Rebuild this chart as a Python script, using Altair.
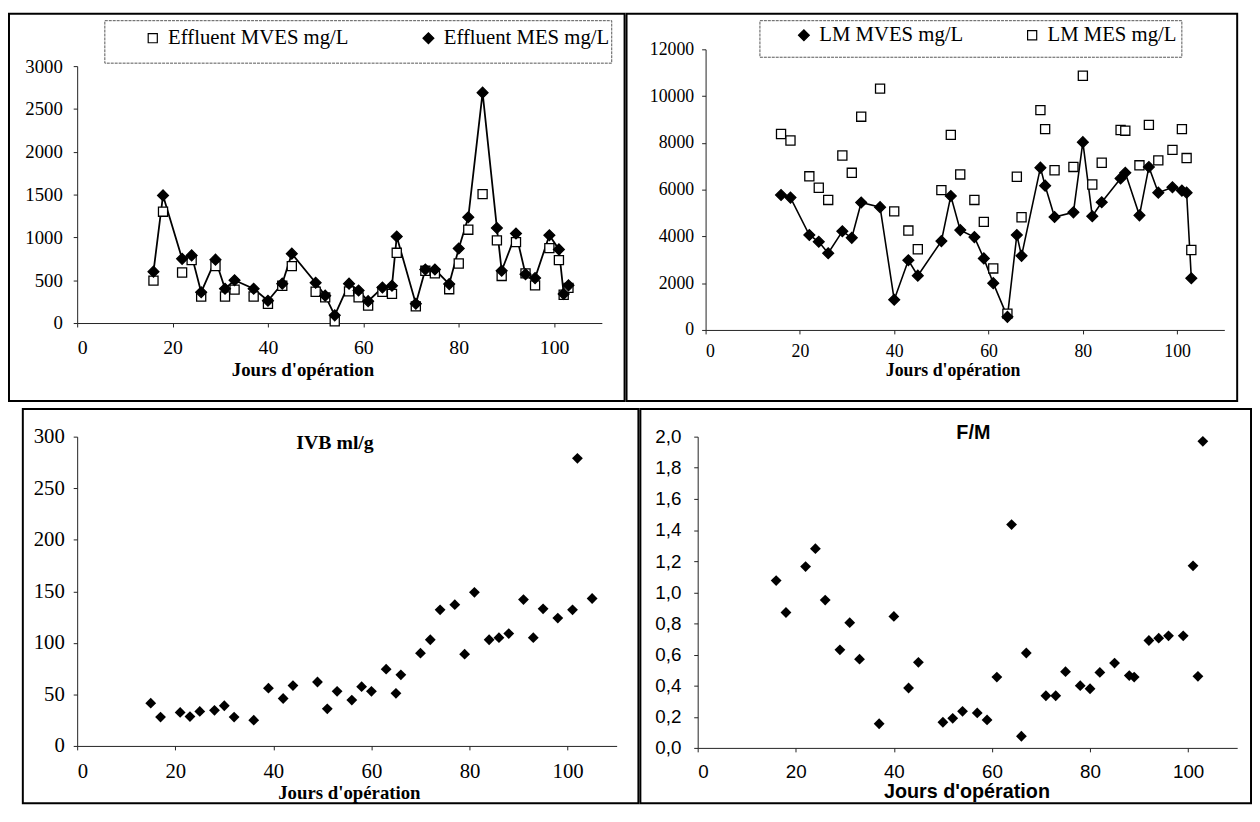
import altair as alt
import pandas as pd

SERIF = "Liberation Serif"
SANS = "Liberation Sans"
X_TITLE = "Jours d'opération"
X_TICKS = [0, 20, 40, 60, 80, 100]

# ---------------- Top left: effluent solids ----------------
eff_days = [16, 18, 22, 24, 26, 29, 31, 33, 37, 40, 43, 45, 50, 52, 54, 57, 59, 61, 64, 66, 67,
            71, 73, 75, 78, 80, 82, 85, 88, 89, 92, 94, 96, 99, 101, 102, 103]
eff_mes = [600, 1490, 750, 790, 360, 740, 400, 500, 400, 260, 460, 810, 470, 320, 90, 460, 380,
           255, 415, 435, 1010, 225, 625, 625, 455, 870, 1235, 2690, 1110, 610, 1045, 570, 525,
           1025, 860, 340, 440]
eff_mves = [495, 1300, 590, 735, 310, 665, 310, 390, 310, 225, 435, 665, 365, 300, 20, 370, 300,
            205, 365, 340, 820, 195, 610, 580, 395, 695, 1090, 1505, 965, 550, 945, 580, 440,
            875, 735, 330, 410]
eff_series = ["Effluent MVES mg/L", "Effluent MES mg/L"]

# ---------------- Top right: mixed liquor solids ----------------
lm_days = [16, 18, 22, 24, 26, 29, 31, 33, 37, 40, 43, 45, 50, 52, 54, 57, 59, 61, 64, 66, 67,
           71, 72, 74, 78, 80, 82, 84, 88, 89, 92, 94, 96, 99, 101, 102, 103]
lm_mves = [5770, 5660, 4060, 3770, 3280, 4220, 3940, 5450, 5250, 1290, 2980, 2320, 3800, 5730,
           4270, 3970, 3060, 2000, 560, 4060, 3170, 6940, 6170, 4830, 5030, 8030, 4860, 5460,
           6480, 6720, 4900, 6970, 5870, 6100, 5960, 5870, 2210]
lm_mes = [8380, 8100, 6570, 6080, 5560, 7460, 6720, 9120, 10320, 5070, 4250, 3450, 5980, 8340,
          6650, 5560, 4620, 2630, 700, 6550, 4820, 9400, 8590, 6830, 6970, 10870, 6220, 7150,
          8550, 8520, 7040, 8770, 7250, 7700, 8590, 7350, 3420]
lm_series = ["LM MVES mg/L", "LM MES mg/L"]

# ---------------- Bottom left: IVB ----------------
ivb_days = [15, 17, 21, 23, 25, 28, 30, 32, 36, 39, 42, 44, 49, 51, 53, 56, 58, 60, 63, 65, 66,
            70, 72, 74, 77, 79, 81, 84, 86, 88, 91, 93, 95, 98, 101, 102, 105]
ivb_vals = [41.5, 28, 32.5, 28.5, 33.5, 34.5, 39, 28, 25, 56, 46, 58.5, 62, 36, 53, 44.5, 57.5,
            53, 74.5, 51, 69, 90, 103, 132, 137, 89, 149, 103, 105, 109, 142, 105, 133, 124, 132,
            279, 143]

# ---------------- Bottom right: F/M ----------------
fm_days = [16, 18, 22, 24, 26, 29, 31, 33, 37, 40, 43, 45, 50, 52, 54, 57, 59, 61, 64, 66, 67,
           71, 73, 75, 78, 80, 82, 85, 88, 89, 92, 94, 96, 99, 101, 102, 103]
fm_vals = [1.075, 0.87, 1.165, 1.28, 0.95, 0.63, 0.805, 0.57, 0.155, 0.845, 0.385, 0.55, 0.165,
           0.19, 0.235, 0.225, 0.18, 0.455, 1.435, 0.075, 0.61, 0.335, 0.335, 0.49, 0.40, 0.38,
           0.485, 0.545, 0.465, 0.455, 0.69, 0.705, 0.72, 0.72, 1.17, 0.46, 1.97]

ONE = alt.Data(values=[{}])
AX_COLOR = "#222222"


def frame(w, h, l, r, t, b):
    return alt.Chart(ONE).mark_rect(fillOpacity=0, stroke="black", strokeWidth=2).encode(
        x=alt.value(-l), x2=alt.value(w + r), y=alt.value(-t), y2=alt.value(h + b))


def box(x1, x2, y1, y2):
    return alt.Chart(ONE).mark_rect(fillOpacity=0, stroke="#555555", strokeWidth=1,
                                    strokeDash=[3, 1]).encode(
        x=alt.value(x1), x2=alt.value(x2), y=alt.value(y1), y2=alt.value(y2))


def x_enc(font, lsize, lpad, tsize, tx, ty):
    return alt.X("day:Q", scale=alt.Scale(domain=[0, 110], nice=False, zero=False),
                 axis=alt.Axis(values=X_TICKS, title=X_TITLE, titleFont=font, titleFontSize=tsize,
                               titleFontWeight="bold", titleX=tx, titleY=ty, titleAlign="center",
                               titleBaseline="middle", labelFont=font, labelFontSize=lsize,
                               labelPadding=lpad))


def y_enc(field, domain, values, font, lsize, lpad, fmt=None, expr=None, rng=None):
    kw = dict(values=values, title=None, labelFont=font, labelFontSize=lsize, labelPadding=lpad)
    if fmt:
        kw["format"] = fmt
    if expr:
        kw["labelExpr"] = expr
    skw = dict(domain=domain, nice=False)
    if rng:
        skw["range"] = rng
    return alt.Y(field, scale=alt.Scale(**skw), axis=alt.Axis(**kw))


def legend(lx, ly, colpad):
    return alt.Legend(orient="none", legendX=lx, legendY=ly, direction="horizontal",
                      labelFont=SERIF, labelFontSize=21, labelLimit=500, labelOffset=5,
                      labelColor="black", symbolSize=80, symbolStrokeColor="black",
                      symbolStrokeWidth=1.2, columnPadding=colpad)


RES = dict(x="independent", y="independent", shape="independent", color="independent",
           size="independent")

# ---------- panel TL ----------
W1, H1 = 531, 277
df1 = pd.concat([
    pd.DataFrame({"day": eff_days, "val": eff_mves, "series": eff_series[0]}),
    pd.DataFrame({"day": eff_days, "val": eff_mes, "series": eff_series[1]}),
])
x1 = x_enc(SERIF, 20, 11, 19, 228, 47)
y1 = y_enc("val:Q", [0, 3000], list(range(0, 3001, 500)), SERIF, 19, 11, fmt="d",
           rng=[H1, 17])
line1 = alt.Chart(df1).transform_filter(alt.datum.series == eff_series[1]).mark_line(
    color="black", strokeWidth=1.8).encode(x=x1, y=y1)
leg1 = legend(66, -22, 70)
pts1 = alt.Chart(df1).mark_point(filled=True, stroke="black", strokeWidth=1.3, opacity=1).encode(
    x=x1, y=y1,
    shape=alt.Shape("series:N", title=None,
                    scale=alt.Scale(domain=eff_series, range=["square", "diamond"]), legend=leg1),
    color=alt.Color("series:N", title=None,
                    scale=alt.Scale(domain=eff_series, range=["white", "black"]), legend=leg1),
    size=alt.Size("series:N", scale=alt.Scale(domain=eff_series, range=[85, 120]), legend=None),
)
tl = alt.layer(frame(W1, H1, 69, 23, 36, 79), box(28, 541, -29, 14), line1, pts1).properties(
    width=W1, height=H1)

# ---------- panel TR ----------
W2, H2 = 525, 284
df2 = pd.concat([
    pd.DataFrame({"day": lm_days, "val": lm_mes, "series": lm_series[1]}),
    pd.DataFrame({"day": lm_days, "val": lm_mves, "series": lm_series[0]}),
])
x2 = x_enc(SERIF, 18, 9, 18, 250, 41)
y2 = y_enc("val:Q", [0, 12000], list(range(0, 12001, 2000)), SERIF, 18, 8, fmt="d")
line2 = alt.Chart(df2).transform_filter(alt.datum.series == lm_series[0]).mark_line(
    color="black", strokeWidth=1.6).encode(x=x2, y=y2)
leg2 = legend(89, -25, 59)
pts2 = alt.Chart(df2).mark_point(filled=True, stroke="black", strokeWidth=1.3, opacity=1).encode(
    x=x2, y=y2,
    shape=alt.Shape("series:N", title=None,
                    scale=alt.Scale(domain=lm_series, range=["diamond", "square"]), legend=leg2),
    color=alt.Color("series:N", title=None,
                    scale=alt.Scale(domain=lm_series, range=["black", "white"]), legend=leg2),
    size=alt.Size("series:N", scale=alt.Scale(domain=lm_series, range=[120, 85]), legend=None),
)
tr = alt.layer(frame(W2, H2, 80, 13, 36, 72), box(55, 482, -29, 8), line2, pts2).properties(
    width=W2, height=H2)

# ---------- panel BL ----------
W3, H3 = 546, 313
df3 = pd.DataFrame({"day": ivb_days, "val": ivb_vals})
x3 = x_enc(SERIF, 21, 11, 19, 275, 47)
y3 = y_enc("val:Q", [0, 300], list(range(0, 301, 50)), SERIF, 21, 9, fmt="d")
pts3 = alt.Chart(df3).mark_point(filled=True, shape="diamond", size=120, color="black",
                                 opacity=1).encode(x=x3, y=y3)
t3 = alt.Chart(ONE).mark_text(text="IVB ml/g", font=SERIF, fontSize=20, fontWeight="bold",
                              align="center", baseline="middle", color="black").encode(
    x=alt.value(261), y=alt.value(6))
bl = alt.layer(frame(W3, H3, 55, 22, 28, 58), t3, pts3).properties(width=W3, height=H3)

# ---------- panel BR ----------
W4, H4 = 546, 315
df4 = pd.DataFrame({"day": fm_days, "val": fm_vals})
x4 = x_enc(SANS, 19, 11, 20, 272, 44)
y4 = y_enc("val:Q", [0, 2], [0, 0.2, 0.4, 0.6, 0.8, 1.0, 1.2, 1.4, 1.6, 1.8, 2.0], SANS, 19, 13,
           expr="replace(format(datum.value, '.1f'), '.', ',')")
pts4 = alt.Chart(df4).mark_point(filled=True, shape="diamond", size=120, color="black",
                                 opacity=1).encode(x=x4, y=y4)
t4 = alt.Chart(ONE).mark_text(text="F/M", font=SANS, fontSize=20, fontWeight="bold",
                              align="center", baseline="middle", color="black").encode(
    x=alt.value(279), y=alt.value(-4))
br = alt.layer(frame(W4, H4, 58, 14, 28, 56), t4, pts4).properties(width=W4, height=H4)

row1 = alt.hconcat(tl, tr, spacing=0).resolve_scale(**RES).resolve_legend(
    shape="independent", color="independent", size="independent")
row2 = alt.hconcat(bl, br, spacing=0).resolve_scale(**RES)

chart = alt.vconcat(row1, row2, spacing=6).resolve_scale(**RES).resolve_legend(
    shape="independent", color="independent", size="independent"
).properties(padding=0, background="white").configure_view(stroke=None).configure_axis(
    grid=False, domainColor=AX_COLOR, domainWidth=1, tickColor=AX_COLOR, tickSize=4,
    labelColor="black", titleColor="black",
)

chart.save("out.html", embed_options={"renderer": "svg", "actions": False})
